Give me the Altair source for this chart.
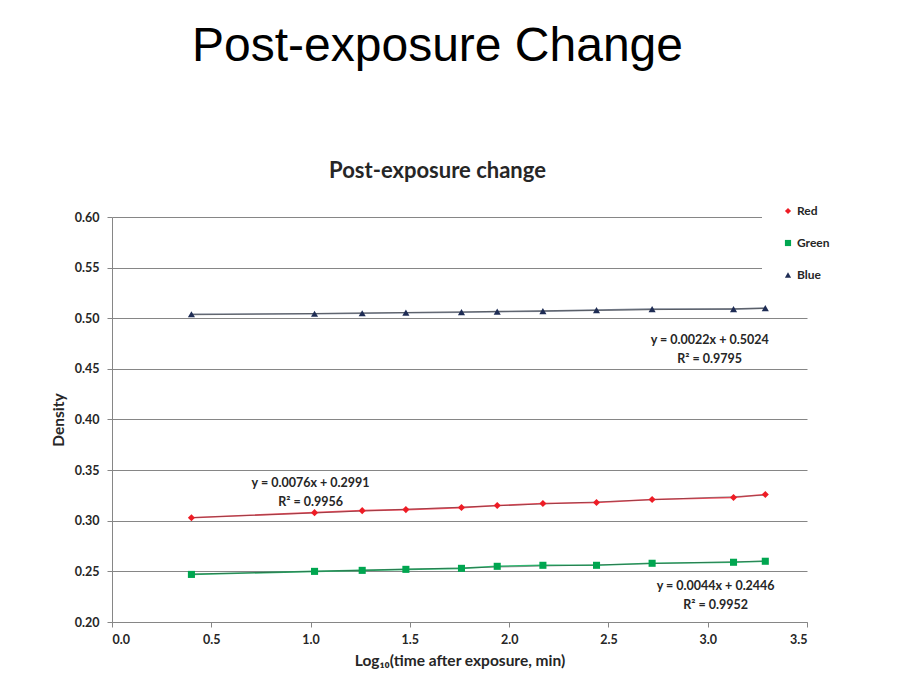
import altair as alt
import pandas as pd

# ---- data ----
log_time = [0.40, 1.02, 1.26, 1.48, 1.76, 1.94, 2.17, 2.44, 2.72, 3.13, 3.29]
red = [0.303, 0.308, 0.310, 0.311, 0.313, 0.315, 0.317, 0.318, 0.321, 0.323, 0.326]
green = [0.247, 0.250, 0.251, 0.252, 0.253, 0.255, 0.256, 0.256, 0.258, 0.259, 0.260]
blue = [0.504, 0.5045, 0.505, 0.5055, 0.506, 0.5065, 0.507, 0.508, 0.509, 0.509, 0.510]

series_names = ["Red", "Green", "Blue"]
series_colors = ["#ee1c25", "#00a650", "#1f2d55"]
line_colors = ["#f0505f", "#2fb870", "#7d8594"]
series_shapes = ["diamond", "square", "triangle-up"]

eq_red = "y = 0.0076x + 0.2991\nR² = 0.9956"
eq_green = "y = 0.0044x + 0.2446\nR² = 0.9952"
eq_blue = "y = 0.0022x + 0.5024\nR² = 0.9795"

rows = []
for name, vals in zip(series_names, [red, green, blue]):
    for x, y in zip(log_time, vals):
        rows.append({"x": x, "y": y, "series": name})
df = pd.DataFrame(rows)

FONT = "Lato"
TXT = "#262626"

xscale = alt.Scale(domain=[0, 3.5], nice=False, zero=False)
yscale = alt.Scale(domain=[0.2, 0.6], nice=False, zero=False)

base = alt.Chart(df)

xenc = alt.X("x:Q", scale=xscale,
             axis=alt.Axis(title="Log₁₀(time after exposure, min)", values=[0, 0.5, 1, 1.5, 2, 2.5, 3, 3.5],
                           format=".1f", grid=False, tickSize=5, labelPadding=6, titlePadding=8))
yenc = alt.Y("y:Q", scale=yscale,
             axis=alt.Axis(title="Density", values=[0.2, 0.25, 0.3, 0.35, 0.4, 0.45, 0.5, 0.55, 0.6],
                           format=".2f", grid=True, tickSize=5, labelPadding=8, titlePadding=8))

# one connecting line per series (fixed colour, no scale, so it does not disturb the legend)
line_layers = [
    base.transform_filter(alt.datum.series == name).mark_line(strokeWidth=1.6, color=col).encode(x=xenc, y=yenc)
    for name, col in zip(series_names, line_colors)
]

trend = base.transform_regression("x", "y", groupby=["series"]).mark_line(
    strokeWidth=1, color="#202020", opacity=0.4
).encode(x=alt.X("x:Q", scale=xscale), y=alt.Y("y:Q", scale=yscale), detail="series:N")

leg = alt.Legend(title=None, orient="none", legendX=650, legendY=-32, fillColor="white", padding=20,
                 labelFont=FONT, labelFontSize=12, labelFontWeight="bold", labelColor=TXT,
                 labelOffset=3, symbolSize=38, rowPadding=20, symbolStrokeWidth=0)

points = base.mark_point(filled=True, size=50, opacity=1).encode(
    x=alt.X("x:Q", scale=xscale),
    y=alt.Y("y:Q", scale=yscale),
    color=alt.Color("series:N", scale=alt.Scale(domain=series_names, range=series_colors), legend=leg),
    shape=alt.Shape("series:N", scale=alt.Scale(domain=series_names, range=series_shapes), legend=leg),
)

def eq_label(text, xv, yv):
    return alt.Chart(pd.DataFrame({"t": [text]})).mark_text(
        font=FONT, fontSize=12.5, fontWeight="bold", color=TXT, align="center", baseline="top",
        lineBreak="\n", lineHeight=19,
    ).encode(x=alt.datum(xv, scale=xscale), y=alt.datum(yv, scale=yscale), text="t:N")

labels = eq_label(eq_red, 1.0, 0.343) + eq_label(eq_green, 3.04, 0.241) + eq_label(eq_blue, 3.01, 0.4845)

chart = alt.layer(*line_layers, trend, points, labels).properties(
    width=695, height=405,
    autosize=alt.AutoSizeParams(type="none"),
    padding={"left": 104, "top": 209, "right": 95, "bottom": 60},
    title=alt.Title(
        "Post-exposure Change",
        subtitle="Post-exposure change",
        anchor="middle", orient="top", dx=-22, offset=3,
        font="Liberation Sans", fontSize=48, fontWeight="normal", color="#000000",
        subtitleFont=FONT, subtitleFontSize=22, subtitleFontWeight="bold", subtitleColor=TXT,
        subtitlePadding=90,
    ),
).configure_view(stroke=None).configure_axis(
    labelFont=FONT, labelFontSize=12.5, labelFontWeight="bold", labelColor=TXT,
    titleFont=FONT, titleFontSize=15.5, titleFontWeight="bold", titleColor=TXT,
    domainColor="#868686", tickColor="#868686", gridColor="#868686", gridWidth=1, gridOpacity=1,
)

chart.save("out.html", embed_options={"renderer": "svg", "actions": False})
